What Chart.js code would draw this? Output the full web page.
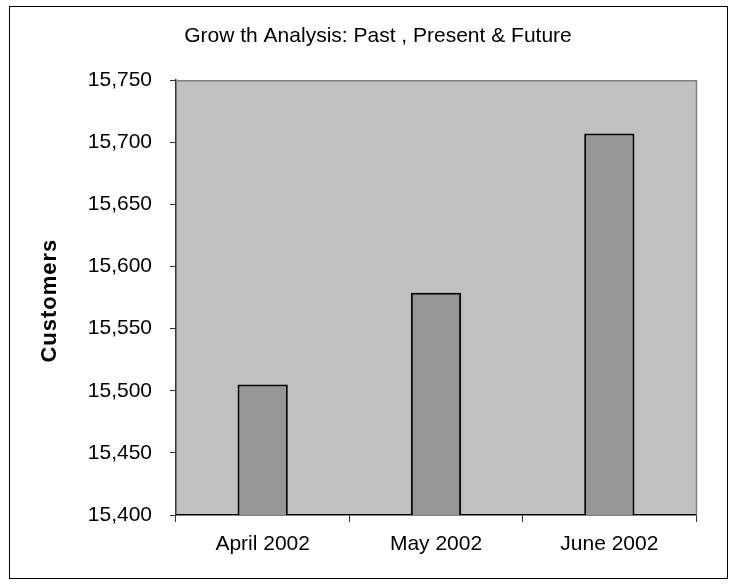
<!DOCTYPE html>
<html>
<head>
<meta charset="utf-8">
<script src="https://cdn.jsdelivr.net/npm/chart.js@4"></script>
<style>
  html, body { margin: 0; padding: 0; background: #fff; }
  canvas { display: block; }
</style>
</head>
<body>
<canvas id="growthChart" width="737" height="588"></canvas>
<script>
// chart values
var months = ['April 2002', 'May 2002', 'June 2002'];
var customers = [15505, 15579, 15707];
var yTicks = [15400, 15450, 15500, 15550, 15600, 15650, 15700, 15750];

var chartTitle = 'Grow th Analysis: Past , Present & Future';
var yTitle = 'Customers';

// plot background, outer frame and the rotated axis title
var excelLook = {
  id: 'excelLook',
  beforeDraw: function (chart) {
    var ctx = chart.ctx, a = chart.chartArea;
    ctx.save();
    ctx.fillStyle = '#ffffff';
    ctx.fillRect(0, 0, chart.width, chart.height);
    ctx.fillStyle = '#c0c0c0';
    ctx.fillRect(a.left, a.top, a.right - a.left, a.bottom - a.top);
    ctx.strokeStyle = '#000000';
    ctx.lineWidth = 1;
    ctx.strokeRect(9.5, 6.5, 718, 572);
    ctx.restore();
  },
  afterDraw: function (chart) {
    var ctx = chart.ctx, a = chart.chartArea;
    ctx.save();
    ctx.strokeStyle = '#808080';
    ctx.lineWidth = 1.5;
    ctx.beginPath();
    ctx.moveTo(a.left, a.top + 0.5);
    ctx.lineTo(a.right + 0.5, a.top + 0.5);
    ctx.lineTo(a.right + 0.5, a.bottom);
    ctx.stroke();

    ctx.translate(50, (a.top + a.bottom) / 2 + 3);
    ctx.rotate(-Math.PI / 2);
    ctx.letterSpacing = '1px';
    ctx.fillStyle = '#000000';
    ctx.font = 'bold 22px "Liberation Sans", Arial, sans-serif';
    ctx.textAlign = 'center';
    ctx.textBaseline = 'middle';
    ctx.fillText(yTitle, 0, 0);
    ctx.restore();
  }
};

var ctx = document.getElementById('growthChart').getContext('2d');
var growthChart = new Chart(ctx, {
  type: 'bar',
  data: {
    labels: months,
    datasets: [{
      data: customers,
      backgroundColor: '#969696',
      borderColor: '#000000',
      borderWidth: 2,
      borderSkipped: false,
      categoryPercentage: 1.0,
      barPercentage: 0.29
    }]
  },
  options: {
    responsive: false,
    animation: false,
    devicePixelRatio: 1,
    layout: {
      padding: { left: 60, right: 41, top: 6, bottom: 0 }
    },
    plugins: {
      legend: { display: false },
      tooltip: { enabled: false },
      title: {
        display: true,
        text: chartTitle,
        color: '#000000',
        font: { family: '"Liberation Sans", Arial, sans-serif', size: 21, weight: 'normal' },
        padding: { top: 18, bottom: 31 }
      }
    },
    scales: {
      x: {
        grid: { drawOnChartArea: false, drawTicks: true, tickLength: 7, color: '#333333' },
        border: { display: true, color: '#000000', width: 1.5 },
        ticks: {
          color: '#000000',
          padding: 10,
          font: { family: '"Liberation Sans", Arial, sans-serif', size: 21 }
        },
        afterFit: function (scale) { scale.height = 73; }
      },
      y: {
        min: 15400,
        max: 15750,
        grid: { drawOnChartArea: false, drawTicks: true, tickLength: 6, color: '#333333' },
        border: { display: true, color: '#333333', width: 1.5 },
        afterBuildTicks: function (scale) {
          scale.ticks = yTicks.map(function (v) { return { value: v }; });
        },
        ticks: {
          color: '#000000',
          padding: 18,
          font: { family: '"Liberation Sans", Arial, sans-serif', size: 21 },
          callback: function (v) { return Number(v).toLocaleString('en-US'); }
        },
        afterFit: function (scale) { scale.width = 116; }
      }
    }
  },
  plugins: [excelLook]
});
</script>
</body>
</html>
